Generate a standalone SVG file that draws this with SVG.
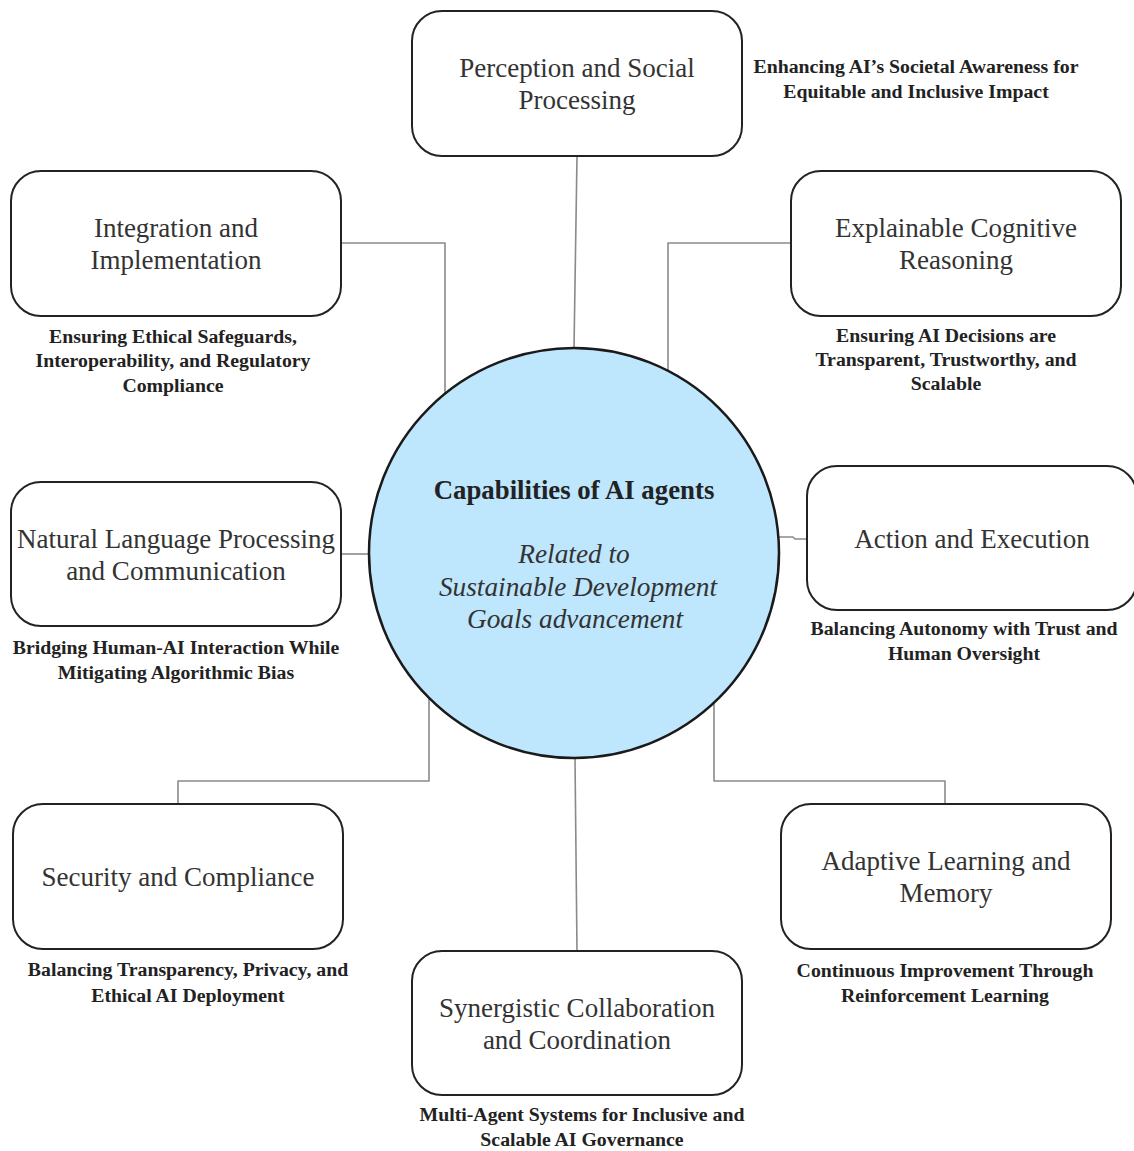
<svg xmlns="http://www.w3.org/2000/svg" width="1134" height="1151" viewBox="0 0 1134 1151">
<style>
.box{fill:#fff;stroke:#222;stroke-width:2}
.t{font-family:"Liberation Serif","Times New Roman",serif;font-size:27px;fill:#333;text-anchor:middle}
.s{font-family:"Liberation Serif","Times New Roman",serif;font-size:19.8px;font-weight:bold;fill:#222;text-anchor:middle}
.c{fill:none;stroke:#8a8a8a;stroke-width:1.6;stroke-linejoin:round}
</style>
<rect width="1134" height="1151" fill="#fff"/>
<g id="connectors">
<path class="c" d="M577,156 L574,348"/>
<path class="c" d="M341,243 L445,243 L445,394"/>
<path class="c" d="M791,243 L668,243 L668,371"/>
<path class="c" d="M341,554 L369,554"/>
<path class="c" d="M779,537 L793,537 L795,539 L807,539"/>
<path class="c" d="M429,698 L429,781 L178,781 L178,804"/>
<path class="c" d="M714,703 L714,781 L945,781 L945,804"/>
<path class="c" d="M575,758 L577,951"/>
</g>
<g id="center">
<circle cx="574" cy="553" r="205" fill="#bee6fc" stroke="#1a1a1a" stroke-width="2.5"/>
<text x="574" y="499" font-family="'Liberation Serif','Times New Roman',serif" font-size="26.8" font-weight="bold" fill="#222" text-anchor="middle">Capabilities of AI agents</text>
<text font-family="'Liberation Serif','Times New Roman',serif" font-size="27.3" font-style="italic" fill="#333" text-anchor="middle"><tspan x="574" y="563">Related to</tspan><tspan x="578" y="596">Sustainable Development</tspan><tspan x="575" y="628">Goals advancement</tspan></text>
</g>
<g id="perception">
<rect class="box" x="412" y="11" width="330" height="145" rx="30"/>
<text class="t"><tspan x="577" y="77">Perception and Social</tspan><tspan x="577" y="109">Processing</tspan></text>
<text class="s"><tspan x="916" y="73">Enhancing AI’s Societal Awareness for</tspan><tspan x="916" y="98">Equitable and Inclusive Impact</tspan></text>
</g>
<g id="integration">
<rect class="box" x="11" y="171" width="330" height="145" rx="30"/>
<text class="t"><tspan x="176" y="237">Integration and</tspan><tspan x="176" y="269">Implementation</tspan></text>
<text class="s"><tspan x="173" y="343">Ensuring Ethical Safeguards,</tspan><tspan x="173" y="367">Interoperability, and Regulatory</tspan><tspan x="173" y="392">Compliance</tspan></text>
</g>
<g id="explainable">
<rect class="box" x="791" y="171" width="330" height="145" rx="30"/>
<text class="t"><tspan x="956" y="237">Explainable Cognitive</tspan><tspan x="956" y="269">Reasoning</tspan></text>
<text class="s"><tspan x="946" y="342">Ensuring AI Decisions are</tspan><tspan x="946" y="366">Transparent, Trustworthy, and</tspan><tspan x="946" y="390">Scalable</tspan></text>
</g>
<g id="nlp">
<rect class="box" x="11" y="482" width="330" height="144" rx="30"/>
<text class="t"><tspan x="176" y="548">Natural Language Processing</tspan><tspan x="176" y="580">and Communication</tspan></text>
<text class="s"><tspan x="176" y="654">Bridging Human-AI Interaction While</tspan><tspan x="176" y="679">Mitigating Algorithmic Bias</tspan></text>
</g>
<g id="action">
<rect class="box" x="807" y="466" width="330" height="144" rx="30"/>
<text class="t"><tspan x="972" y="548">Action and Execution</tspan></text>
<text class="s"><tspan x="964" y="635">Balancing Autonomy with Trust and</tspan><tspan x="964" y="660">Human Oversight</tspan></text>
</g>
<g id="security">
<rect class="box" x="13" y="804" width="330" height="145" rx="30"/>
<text class="t"><tspan x="178" y="886">Security and Compliance</tspan></text>
<text class="s"><tspan x="188" y="976">Balancing Transparency, Privacy, and</tspan><tspan x="188" y="1002">Ethical AI Deployment</tspan></text>
</g>
<g id="adaptive">
<rect class="box" x="781" y="804" width="330" height="145" rx="30"/>
<text class="t"><tspan x="946" y="870">Adaptive Learning and</tspan><tspan x="946" y="902">Memory</tspan></text>
<text class="s"><tspan x="945" y="977">Continuous Improvement Through</tspan><tspan x="945" y="1002">Reinforcement Learning</tspan></text>
</g>
<g id="synergistic">
<rect class="box" x="412" y="951" width="330" height="144" rx="30"/>
<text class="t"><tspan x="577" y="1017">Synergistic Collaboration</tspan><tspan x="577" y="1049">and Coordination</tspan></text>
<text class="s"><tspan x="582" y="1121">Multi-Agent Systems for Inclusive and</tspan><tspan x="582" y="1146">Scalable AI Governance</tspan></text>
</g>
</svg>
